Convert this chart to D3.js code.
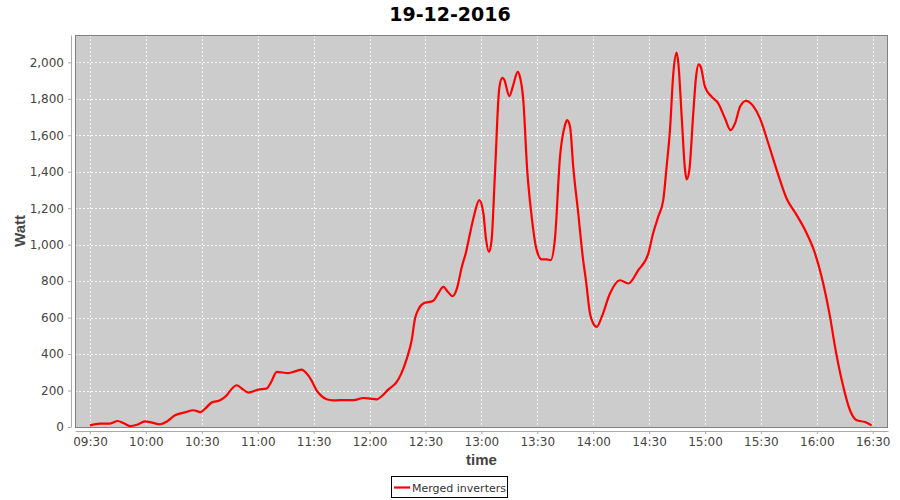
<!DOCTYPE html>
<html>
<head>
<meta charset="utf-8">
<script src="https://cdn.jsdelivr.net/npm/d3@7"></script>
<style>
  body { margin: 0; background: #fff; }
  svg { display: block; font-family: "DejaVu Sans", sans-serif; }
</style>
</head>
<body>
<div id="chart"></div>
<script>
// readings of the merged inverters, 19-12-2016
var times = ["09:30:00","09:35:24","09:40:42","09:44:54","09:48:12","09:51:30","09:55:12","09:59:30",
  "10:03:18","10:07:36","10:11:18","10:15:36","10:21:00","10:25:24","10:29:24","10:31:42","10:35:18",
  "10:39:48","10:43:24","10:45:42","10:48:42","10:51:36","10:55:00","11:00:18","11:04:48","11:07:06",
  "11:10:12","11:16:24","11:20:00","11:23:36","11:26:18","11:28:36","11:31:36","11:34:00","11:37:00",
  "11:40:24","11:44:06","11:51:18","11:56:42","12:00:12","12:03:48","12:06:42","12:10:00","12:14:36",
  "12:16:54","12:20:00","12:22:36","12:24:24","12:26:30","12:28:48","12:34:12","12:36:42","12:39:36",
  "12:42:06","12:44:36","12:46:54","12:49:30","12:51:48","12:53:54","12:56:06","12:58:54","13:01:06",
  "13:02:30","13:04:06","13:05:30","13:07:18","13:09:36","13:11:12","13:12:12","13:15:00","13:17:06",
  "13:19:30","13:20:42","13:22:30","13:24:36","13:27:00","13:29:42","13:32:24","13:35:06","13:37:12",
  "13:39:30","13:42:12","13:44:54","13:46:00","13:47:36","13:49:18","13:52:00","13:54:24","13:56:06",
  "13:58:18","13:59:54","14:01:54","14:04:36","14:09:00","14:14:24","14:18:54","14:24:12","14:29:36",
  "14:32:06","14:34:54","14:37:36","14:39:24","14:41:12","14:43:00","14:44:48","14:45:42","14:47:30",
  "14:49:18","14:50:12","14:51:36","14:53:42","14:55:12","14:56:36","14:57:42","15:00:00","15:03:36",
  "15:07:06","15:10:42","15:13:48","15:16:06","15:18:48","15:22:00","15:25:54","15:29:30","15:34:00",
  "15:38:30","15:43:48","15:49:12","15:53:42","15:59:00","16:02:36","16:07:06","16:09:48","16:13:24",
  "16:17:48","16:21:24","16:25:54","16:29:24"];

var watts = [9,19,19,33,20,5,12,31,
  24,15,30,64,80,92,82,100,134,
  147,174,205,229,210,189,205,211,245,
  302,296,305,315,293,260,201,172,152,
  146,147,147,159,156,152,170,205,247,
  290,375,476,595,650,677,692,730,768,
  740,717,760,878,960,1061,1160,1244,1171,
  1030,960,1025,1391,1857,1915,1907,1815,1875,
  1948,1921,1793,1409,1153,970,919,919,915,
  1034,1482,1656,1683,1647,1427,1171,933,805,
  622,570,549,604,732,805,787,860,952,
  1060,1153,1244,1427,1628,1939,2053,1994,1701,
  1409,1358,1409,1720,1921,1989,1976,1866,1811,
  1775,1693,1628,1665,1756,1789,1760,1693,1555,
  1409,1253,1162,1080,953,823,604,439,256,
  92,37,27,9];

var yTicks = [0,200,400,600,800,1000,1200,1400,1600,1800,2000];
var seriesName = "Merged inverters";
var chartTitle = "19-12-2016";

var width = 900, height = 500;
var plotLeft = 75, plotRight = 888, plotTop = 35, plotBottom = 427;

var parse = d3.timeParse("%H:%M:%S");
var data = times.map(function(t, i) { return { t: parse(t), w: watts[i] }; });

var x = d3.scaleTime()
  .domain([parse("09:21:57"), parse("16:38:12")])
  .range([plotLeft, plotRight]);

var y = d3.scaleLinear()
  .domain([0, 2150])
  .range([plotBottom, plotTop]);

var svg = d3.select("#chart").append("svg")
  .attr("width", width)
  .attr("height", height);

// title
svg.append("text")
  .attr("x", 450).attr("y", 21)
  .attr("text-anchor", "middle")
  .style("font-size", "19px")
  .style("font-weight", "bold")
  .text(chartTitle);

// plot background
svg.append("rect")
  .attr("x", plotLeft).attr("y", plotTop)
  .attr("width", plotRight - plotLeft).attr("height", plotBottom - plotTop)
  .attr("fill", "#cccccc");

var xTicks = d3.timeMinute.every(30).range(parse("09:30:00"), parse("16:30:01"));

// grid lines
svg.append("g").selectAll("line")
  .data(xTicks).enter().append("line")
  .attr("x1", function(d) { return Math.round(x(d)) + 0.5; })
  .attr("x2", function(d) { return Math.round(x(d)) + 0.5; })
  .attr("y1", plotTop).attr("y2", plotBottom)
  .attr("stroke", "#f4f4f4").attr("stroke-width", 1)
  .attr("stroke-dasharray", "2,2");

svg.append("g").selectAll("line")
  .data(yTicks.slice(1)).enter().append("line")
  .attr("x1", plotLeft).attr("x2", plotRight)
  .attr("y1", function(d) { return Math.round(y(d)) + 0.5; })
  .attr("y2", function(d) { return Math.round(y(d)) + 0.5; })
  .attr("stroke", "#f4f4f4").attr("stroke-width", 1)
  .attr("stroke-dasharray", "2,2");

// plot outline
svg.append("rect")
  .attr("x", plotLeft + 0.5).attr("y", plotTop + 0.5)
  .attr("width", plotRight - plotLeft - 1).attr("height", plotBottom - plotTop)
  .attr("fill", "none")
  .attr("stroke", "#808080");

// axes
var yAxis = d3.axisLeft(y)
  .tickValues(yTicks)
  .tickFormat(d3.format(","))
  .tickSizeInner(3).tickSizeOuter(0).tickPadding(4);

var xAxis = d3.axisBottom(x)
  .tickValues(xTicks)
  .tickFormat(d3.timeFormat("%H:%M"))
  .tickSizeInner(3).tickSizeOuter(0).tickPadding(3);

var gy = svg.append("g")
  .attr("transform", "translate(" + (plotLeft - 4) + ",0)")
  .call(yAxis);

var gx = svg.append("g")
  .attr("transform", "translate(0," + (plotBottom + 4) + ")")
  .call(xAxis);

[gx, gy].forEach(function(g) {
  g.select(".domain").attr("stroke", "#aaaaaa");
  g.selectAll(".tick line").attr("stroke", "#aaaaaa");
  g.selectAll(".tick text")
    .attr("fill", "#444444")
    .style("font-size", "12px")
    .style("font-family", "DejaVu Sans, sans-serif");
});

// axis labels
svg.append("text")
  .attr("x", (plotLeft + plotRight) / 2).attr("y", 465)
  .attr("text-anchor", "middle")
  .style("font-family", "Liberation Sans, sans-serif")
  .style("font-size", "15px")
  .style("font-weight", "bold")
  .attr("fill", "#444444")
  .text("time");

svg.append("text")
  .attr("transform", "translate(25," + ((plotTop + plotBottom) / 2) + ") rotate(-90)")
  .attr("text-anchor", "middle")
  .style("font-family", "Liberation Sans, sans-serif")
  .style("font-size", "15px")
  .style("font-weight", "bold")
  .attr("fill", "#444444")
  .text("Watt");

// the series
var line = d3.line()
  .x(function(d) { return x(d.t); })
  .y(function(d) { return y(d.w); })
  .curve(d3.curveMonotoneX);

svg.append("path")
  .datum(data)
  .attr("d", line)
  .attr("fill", "none")
  .attr("stroke", "#ff0000")
  .attr("stroke-width", 2.2)
  .attr("stroke-linejoin", "round");

// legend
var lg = svg.append("g").attr("transform", "translate(391,476)");
lg.append("rect")
  .attr("x", 0.5).attr("y", 0.5)
  .attr("width", 116).attr("height", 21)
  .attr("fill", "#ffffff")
  .attr("stroke", "#000000");
lg.append("line")
  .attr("x1", 3).attr("x2", 19)
  .attr("y1", 11.5).attr("y2", 11.5)
  .attr("stroke", "#ff0000").attr("stroke-width", 2.2);
lg.append("text")
  .attr("x", 21).attr("y", 15.5)
  .style("font-size", "11px")
  .attr("fill", "#333333")
  .text(seriesName);
</script>
</body>
</html>
